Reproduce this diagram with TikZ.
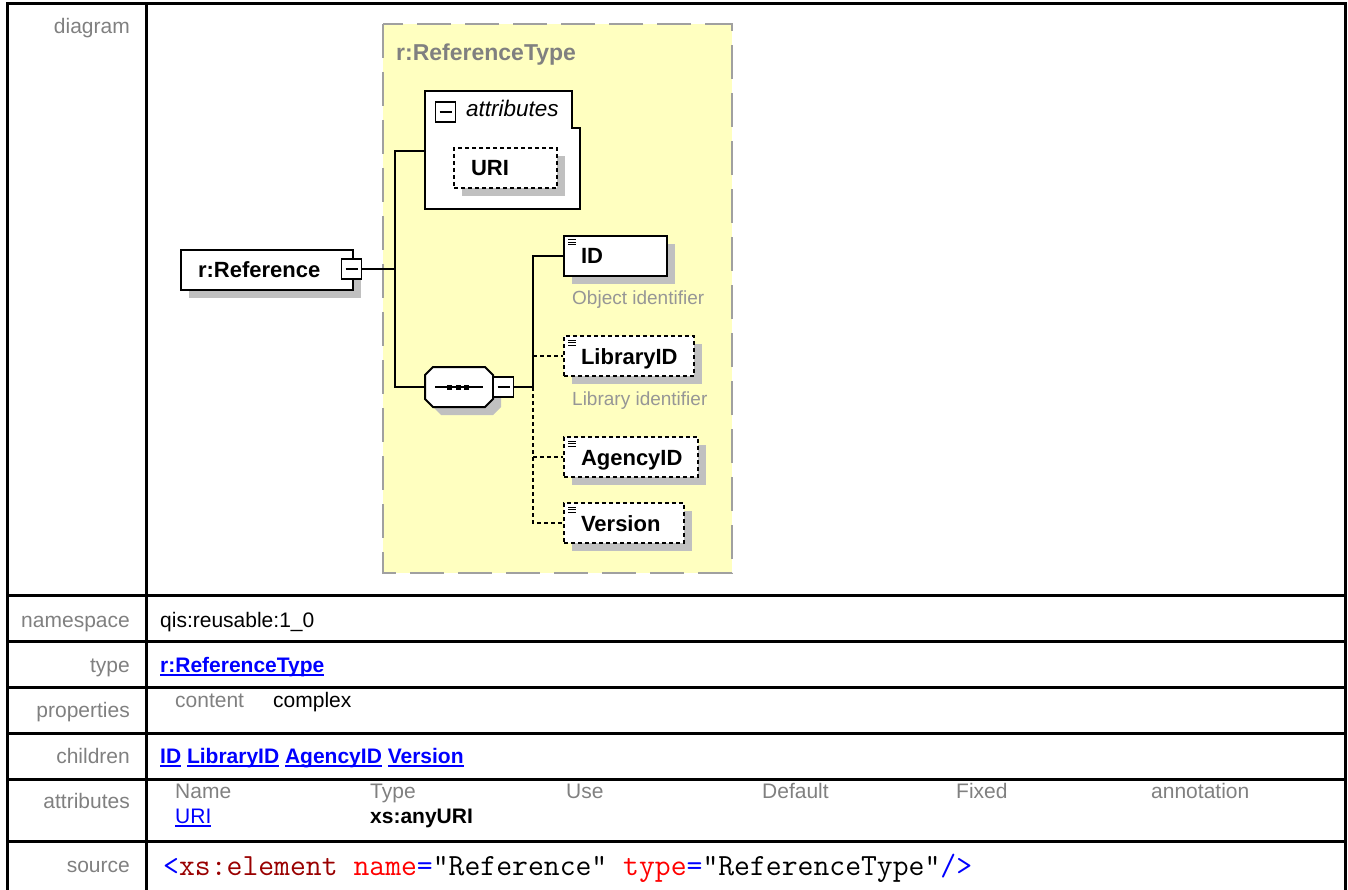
\documentclass[tikz,border=0pt]{standalone}
\usepackage{fontspec}
\setmainfont{Liberation Sans}
\usetikzlibrary{shadows}

\definecolor{labelgray}{RGB}{128,128,128}
\definecolor{notegray}{RGB}{150,150,150}
\definecolor{shadowgray}{RGB}{192,192,192}
\definecolor{typefill}{RGB}{255,255,192}
\definecolor{typeborder}{RGB}{160,160,160}
\definecolor{linkblue}{RGB}{0,0,255}
\definecolor{xmltag}{RGB}{153,0,0}
\definecolor{xmlattr}{RGB}{255,0,0}
\definecolor{xmlpunct}{RGB}{0,0,255}

\newcommand\tabfont{\fontsize{21}{25}\selectfont}
\newcommand\elemfont{\bfseries\fontsize{22}{26}\selectfont}
\newcommand\notefont{\fontsize{19}{23}\selectfont}
% underlined link text
\newcommand\ulk[1]{\setbox0=\hbox{#1}\rlap{\rule[-3.8pt]{\wd0}{1.6pt}}\box0\relax}
% left-aligned element caption inside a box of fixed width
\newcommand\eltxt[2]{\makebox[#1][l]{\hspace{17pt}#2}}

\begin{document}
\begin{tikzpicture}[x=1pt,y=-1pt,
  tbl/.style={line width=3pt},
  lbl/.style={inner sep=0pt, anchor=base east, text=labelgray, font=\tabfont},
  txt/.style={inner sep=0pt, anchor=base west, font=\tabfont},
  elem/.style={rectangle, draw, fill=white, line width=2pt, inner sep=0pt,
    minimum height=40pt, text height=16pt, text depth=0pt, anchor=north west,
    font=\elemfont,
    general shadow={fill=shadowgray, shadow xshift=8pt, shadow yshift=-8pt}},
  leaf/.style={elem, path picture={
    \foreach \d in {4pt,6.5pt,9pt}{
      \draw[solid, line width=1pt]
        ([shift={(4pt,-\d)}]path picture bounding box.north west) -- ++(8pt,0pt);}}},
  opt/.style={dash pattern=on 4pt off 3pt},
  toggle/.style={rectangle, draw, fill=white, line width=1.5pt, minimum size=20pt,
    inner sep=0pt, path picture={
      \draw[line width=1.5pt] ([xshift=4pt]path picture bounding box.west)
        -- ([xshift=-4pt]path picture bounding box.east);}},
  conn/.style={line width=2pt},
  dconn/.style={conn, dash pattern=on 4pt off 3pt},
  note/.style={inner sep=0pt, anchor=base west, text=notegray, font=\notefont}
]
\useasboundingbox (0,0) rectangle (1348,890);

% ---------- table frame ----------
\draw[tbl] (7,890) -- (7,4) -- (1345,4) -- (1345,890);
\draw[tbl] (146,4) -- (146,890);
\foreach \yy in {595,641,687,733,779,841}
  \draw[tbl] (7,\yy) -- (1345,\yy);

% ---------- row labels ----------
\node[lbl] (ldiagram) at (130,34)  {diagram};
\node[lbl] (lns)      at (130,627) {namespace};
\node[lbl] (ltype)    at (130,672) {type};
\node[lbl] (lprops)   at (130,717) {properties};
\node[lbl] (lchild)   at (130,763) {children};
\node[lbl] (lattr)    at (130,808) {attributes};
\node[lbl] (lsrc)     at (130,872) {source};

% ---------- row contents ----------
\node[txt] (ns) at (160,627) {qis:reusable:1\_0};
\node[txt, text=linkblue, font=\tabfont\bfseries] (tp) at (160,672) {\ulk{r:ReferenceType}};
\node[txt, text=labelgray] (pcontent) at (175,707) {content};
\node[txt] (pcomplex) at (273,707) {complex};
\node[txt, text=linkblue, font=\tabfont\bfseries] (ch) at (160,763)
  {\ulk{ID} \ulk{LibraryID} \ulk{AgencyID} \ulk{Version}};
\node[txt, text=labelgray] (hname) at (175,798)  {Name};
\node[txt, text=labelgray] (htype) at (370,798)  {Type};
\node[txt, text=labelgray] (huse)  at (566,798)  {Use};
\node[txt, text=labelgray] (hdef)  at (762,798)  {Default};
\node[txt, text=labelgray] (hfix)  at (956,798)  {Fixed};
\node[txt, text=labelgray] (hann)  at (1151,798) {annotation};
\node[txt, text=linkblue] (auri) at (175,823) {\ulk{URI}};
\node[txt, font=\tabfont\bfseries] (atype) at (370,823) {xs:anyURI};
\node[inner sep=0pt, anchor=base west, font=\ttfamily\fontsize{30.8}{34}\selectfont] (src) at (163,875)
  {\textcolor{xmlpunct}{<}\textcolor{xmltag}{xs:element} \textcolor{xmlattr}{name}\textcolor{xmlpunct}{=}"Reference" \textcolor{xmlattr}{type}\textcolor{xmlpunct}{=}"ReferenceType"\textcolor{xmlpunct}{/>}};

% ---------- complex type frame ----------
\filldraw[fill=typefill, draw=typeborder, line width=2.5pt, dash pattern=on 34pt off 14pt]
  (383,24) rectangle (732,573);
\node[inner sep=0pt, anchor=base west, text=labelgray, font=\bfseries\fontsize{23}{27}\selectfont]
  (ttitle) at (396,61) {r:ReferenceType};

% ---------- attributes group ----------
\filldraw[fill=white, line width=2pt]
  (425,91) -- (572,91) -- (572,128) -- (580,128) -- (580,209) -- (425,209) -- cycle;
\coordinate (attrW) at (425,151);
\node[toggle] (am) at (445.5,112) {};
\node[inner sep=0pt, anchor=base west, font=\itshape\fontsize{22.5}{26}\selectfont]
  (attrlbl) at (466,117) {attributes};
\node[elem, opt] (uri) at (453,147) {\eltxt{103pt}{URI}};

% ---------- root element ----------
\node[elem] (ref) at (180,249) {\eltxt{172pt}{r:Reference}};
\node[toggle] (rm) at (351.5,269) {};

% ---------- sequence compositor ----------
\node[minimum width=68pt, minimum height=40pt, inner sep=0pt] (seq) at (459,387) {};
\fill[shadowgray] (441,375) -- (493,375) -- (501,383) -- (501,407) -- (493,415)
  -- (441,415) -- (433,407) -- (433,383) -- cycle;
\filldraw[fill=white, line width=2pt] (433,367) -- (485,367) -- (493,375) -- (493,399)
  -- (485,407) -- (433,407) -- (425,399) -- (425,375) -- cycle;
\draw[line width=2pt] (435,387) -- (483,387);
\foreach \xx in {447,455.5,464}
  \fill (\xx,384.5) rectangle ++(5,5);
\node[toggle] (sm) at (503.5,387) {};

% ---------- child elements ----------
\node[leaf] (id)  at (563,235) {\eltxt{103pt}{ID}};
\node[note] (idnote) at (572,305) {Object identifier};
\node[leaf, opt] (lib) at (563,335) {\eltxt{130pt}{LibraryID}};
\node[note] (libnote) at (572,405) {Library identifier};
\node[leaf, opt] (ag)  at (563,436) {\eltxt{134pt}{AgencyID}};
\node[leaf, opt] (ver) at (563,502) {\eltxt{120pt}{Version}};

% ---------- connectors ----------
\coordinate (jA) at (395,269);
\coordinate (jB) at (533,387);
\draw[conn] (rm.east) -- (jA);
\draw[conn] (attrW) -| (jA) |- (seq.west);
\draw[conn] (sm.east) -- (jB);
\draw[conn] (jB) |- (id.west);
\draw[dconn] (jB) |- (ver.west);
\draw[dconn] (lib.west -| jB) -- (lib.west);
\draw[dconn] (ag.west -| jB) -- (ag.west);
\end{tikzpicture}
\end{document}
